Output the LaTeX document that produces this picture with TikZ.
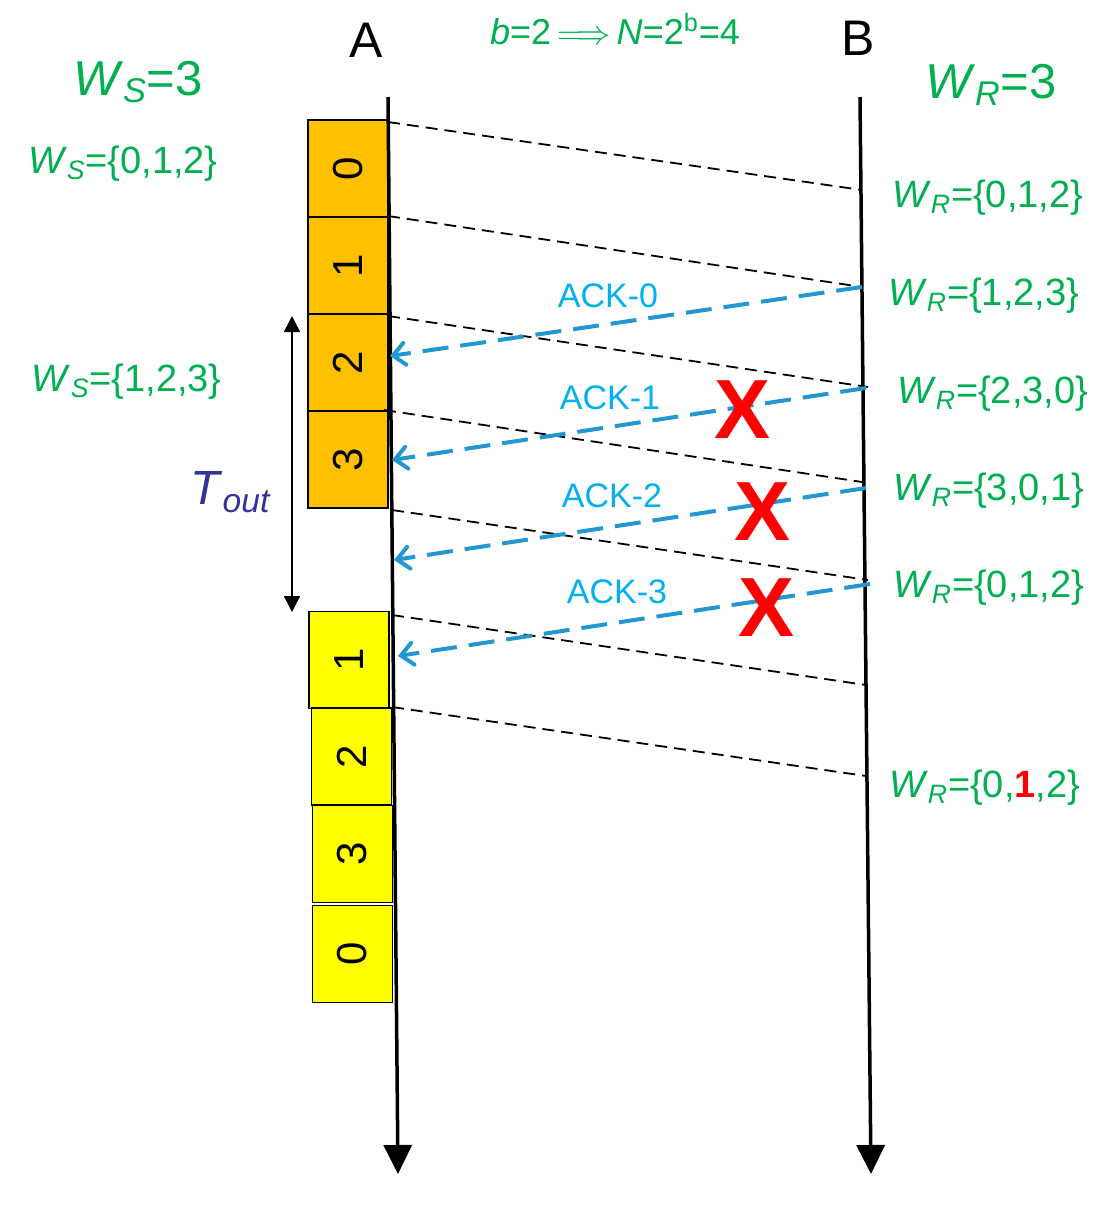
\documentclass[tikz,border=0pt]{standalone}
\usepackage{fontspec}
\setmainfont{Liberation Sans}
\usepackage{tikz}
\usetikzlibrary{positioning,arrows.meta}
\tikzset{swpx/.style={x=0.5pt,y=-0.5pt,every node/.style={inner sep=0pt,outer sep=0pt,anchor=center,align=center}}}
\definecolor{swverde}{HTML}{00B050}
\definecolor{swacktxt}{HTML}{00B0F0}
\definecolor{swackln}{HTML}{2398D0}
\definecolor{swlaranja}{HTML}{FFC000}
\definecolor{swamarelo}{HTML}{FFFF00}
\definecolor{swtempo}{HTML}{333399}
\definecolor{swerro}{HTML}{FF0000}
\newcommand{\wsub}[2]{\textit{#1}\textsubscript{\textit{#2}}}
\tikzset{
  linha/.style={line width=1.75pt,-{Triangle[length=14.5pt,width=14pt]}},
  dado/.style={black,line width=0.9pt,dash pattern=on 6pt off 3.5pt},
  ack/.style={swackln,line width=2pt,dash pattern=on 13pt off 6pt,-{Straight Barb[length=6pt,width=11pt,line cap=round]}},
  acktxt/.style={text=swacktxt,font=\fontsize{17}{20}\selectfont},
  janela/.style={text=swverde,font=\fontsize{19}{23}\selectfont,anchor=base west},
  tam/.style={text=swverde,font=\fontsize{24.5}{30}\selectfont,anchor=base west},
  host/.style={font=\fontsize{25}{30}\selectfont,anchor=base},
  erro/.style={text=swerro,font=\fontsize{42}{48}\selectfont\bfseries},
  tempo/.style={line width=0.75pt,{Triangle[length=8pt,width=8pt]}-{Triangle[length=8pt,width=8pt]}},
}
\begin{document}
\begin{tikzpicture}[swpx,
  quadro/.style={draw=black,line width=0.6pt,minimum width=40pt,minimum height=48.5pt,font=\fontsize{21}{24}\selectfont},
  env/.style={quadro,fill=swlaranja},
  reenv/.style={quadro,fill=swamarelo}]
  \useasboundingbox (0,0) rectangle (1096,1206);
  % quadros enviados
  \node[env] (f0) at (348,168.5) {\rotatebox{90}{0}};
  \node[env,below=0pt of f0] (f1) {\rotatebox{90}{1}};
  \node[env,below=0pt of f1] (f2) {\rotatebox{90}{2}};
  \node[env,below=0pt of f2] (f3) {\rotatebox{90}{3}};
  \node[reenv] (g1) at (349,660) {\rotatebox{90}{1}};
  \node[reenv] (g2) at (351.5,756.5) {\rotatebox{90}{2}};
  \node[reenv] (g3) at (352.5,854) {\rotatebox{90}{3}};
  \node[reenv] (g0) at (352.5,954) {\rotatebox{90}{0}};
  % linhas de tempo
  \node[host] (A) at (366,57) {A};
  \node[host] (B) at (858,55) {B};
  \coordinate (Atop) at (388,97);
  \coordinate (Abot) at (398,1174);
  \coordinate (Btop) at (860,97);
  \coordinate (Bbot) at (871,1174);
  \draw[linha] (Atop) -- (Abot);
  \draw[linha] (Btop) -- (Bbot);
  % quadros de dados
  \foreach \i/\xa/\ya/\xb/\yb in {0/388/122/862/190,1/388/216/862/287,2/388/316/868/387,3/384/410/862/482,4/392/510/868/580,5/392/615/866/685,6/392/707/866/776}{
    \coordinate (s\i) at (\xa,\ya);
    \coordinate (r\i) at (\xb,\yb);
    \draw[dado] (s\i) -- (r\i);
  }
  % confirmacoes
  \foreach \i/\xb/\yb/\xa/\ya/\lx/\ly in {0/862/287/390/356/608/296,1/866/388/392/460/610/398,2/866/488/394/560/612/496,3/870/584/398/656/617/592}{
    \coordinate (k\i) at (\xb,\yb);
    \coordinate (m\i) at (\xa,\ya);
    \draw[ack] (k\i) -- (m\i);
    \node[acktxt] (t\i) at (\lx,\ly) {ACK-\i};
  }
  \node[erro] (x1) at (743,410) {X};
  \node[erro] (x2) at (763,512) {X};
  \node[erro] (x3) at (767,608) {X};
  % janelas
  \node[text=swverde,font=\fontsize{18}{22}\selectfont,anchor=base west] (bn) at (490,44) {\textit{b}=2\,$\Longrightarrow$\,\textit{N}=2\textsuperscript{b}=4};
  \node[tam] (ws) at (73,95) {\wsub{W}{S}=3};
  \node[tam] (wr) at (925,98) {\wsub{W}{R}=3};
  \node[janela] (ws0) at (28,173) {\wsub{W}{S}=\{0,1,2\}};
  \node[janela] (ws1) at (32,391) {\wsub{W}{S}=\{1,2,3\}};
  \node[janela] (wr0) at (892,207) {\wsub{W}{R}=\{0,1,2\}};
  \node[janela] (wr1) at (888,305) {\wsub{W}{R}=\{1,2,3\}};
  \node[janela] (wr2) at (897,403) {\wsub{W}{R}=\{2,3,0\}};
  \node[janela] (wr3) at (893,500) {\wsub{W}{R}=\{3,0,1\}};
  \node[janela] (wr4) at (893,597) {\wsub{W}{R}=\{0,1,2\}};
  \node[janela] (wr5) at (889,797) {\wsub{W}{R}=\{0,\textcolor{swerro}{\textbf{1}},2\}};
  % temporizador
  \coordinate (to1) at (292,316);
  \coordinate (to2) at (292,612);
  \draw[tempo] (to1) -- (to2);
  \node[text=swtempo,font=\fontsize{24}{30}\selectfont] (tout) at (231,492) {\wsub{T}{out}};
\end{tikzpicture}
\end{document}
